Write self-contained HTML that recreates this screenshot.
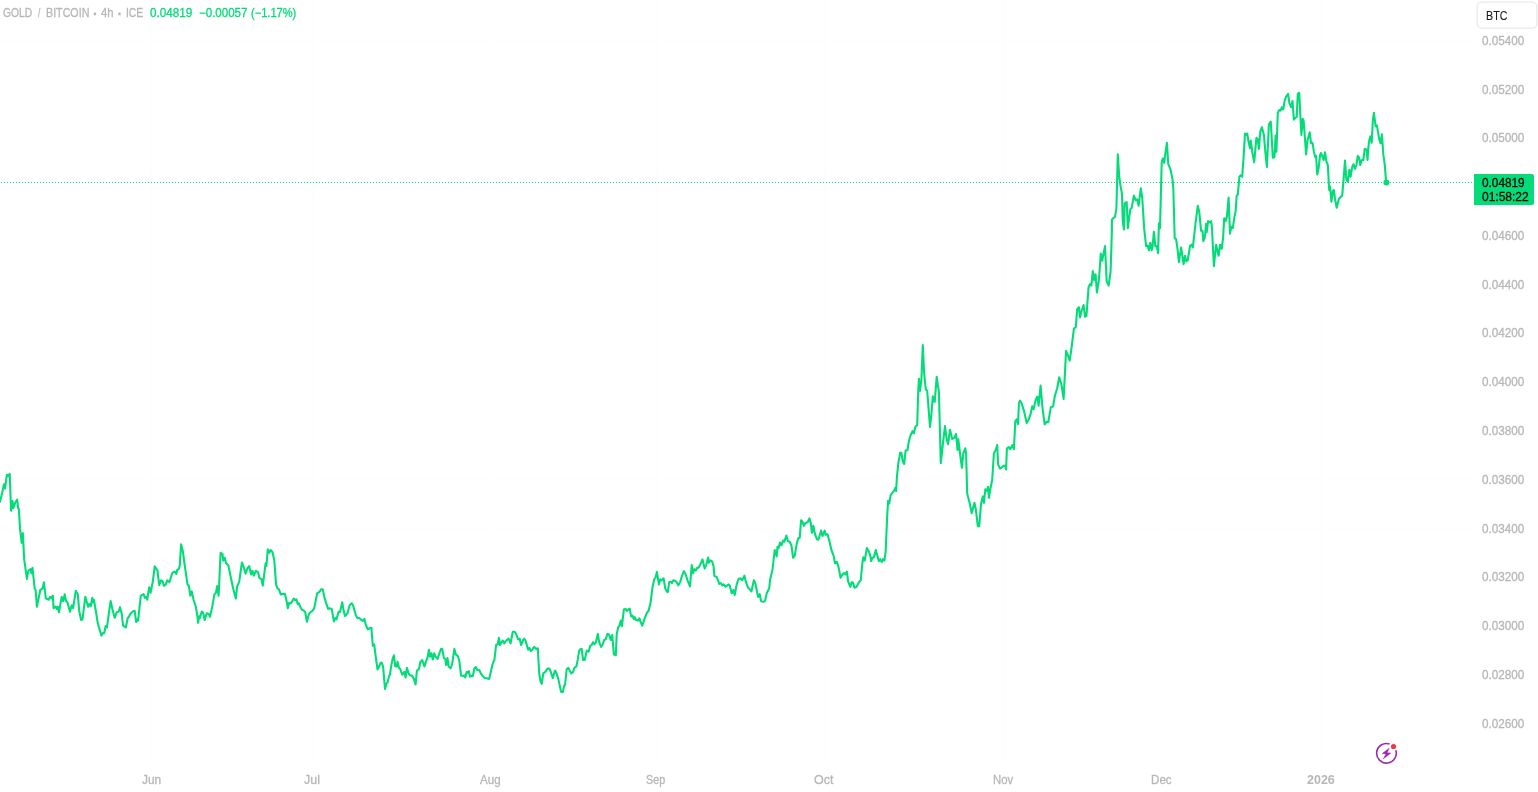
<!DOCTYPE html>
<html><head><meta charset="utf-8"><title>GOLD / BITCOIN</title>
<style>
html,body{margin:0;padding:0;background:#fff;}
body{width:1538px;height:792px;position:relative;overflow:hidden;font-family:"Liberation Sans",sans-serif;font-size:12px;}
#chart{position:absolute;left:0;top:0;}
.t{position:absolute;display:block;line-height:14px;height:14px;white-space:nowrap;transform-origin:0 50%;-webkit-text-stroke:0.3px currentColor;}
#plabel{position:absolute;left:1474px;top:174px;width:60px;height:31px;background:#04DC79;border-radius:0 2px 2px 0;}
</style></head><body>
<svg id="chart" width="1538" height="792" viewBox="0 0 1538 792">
<g stroke="#fdfdfd" stroke-width="1"><line x1="0" y1="40.5" x2="1472" y2="40.5"/><line x1="0" y1="89.5" x2="1472" y2="89.5"/><line x1="0" y1="138.5" x2="1472" y2="138.5"/><line x1="0" y1="187.5" x2="1472" y2="187.5"/><line x1="0" y1="235.5" x2="1472" y2="235.5"/><line x1="0" y1="284.5" x2="1472" y2="284.5"/><line x1="0" y1="333.5" x2="1472" y2="333.5"/><line x1="0" y1="382.5" x2="1472" y2="382.5"/><line x1="0" y1="430.5" x2="1472" y2="430.5"/><line x1="0" y1="479.5" x2="1472" y2="479.5"/><line x1="0" y1="528.5" x2="1472" y2="528.5"/><line x1="0" y1="577.5" x2="1472" y2="577.5"/><line x1="0" y1="626.5" x2="1472" y2="626.5"/><line x1="0" y1="674.5" x2="1472" y2="674.5"/><line x1="0" y1="723.5" x2="1472" y2="723.5"/><line x1="151.5" y1="0" x2="151.5" y2="765"/><line x1="312.5" y1="0" x2="312.5" y2="765"/><line x1="490.5" y1="0" x2="490.5" y2="765"/><line x1="656.5" y1="0" x2="656.5" y2="765"/><line x1="824.5" y1="0" x2="824.5" y2="765"/><line x1="1003.5" y1="0" x2="1003.5" y2="765"/><line x1="1162.5" y1="0" x2="1162.5" y2="765"/><line x1="1321.5" y1="0" x2="1321.5" y2="765"/></g>
<line x1="1" y1="182.5" x2="1474" y2="182.5" stroke="#04DC79" stroke-width="1" stroke-dasharray="1 2"/>
<path d="M0,501.7 L2.2,492.8 L3.9,484.4 L5,488.6 L6.9,474.7 L8.3,476.1 L9.7,473.9 L11.1,510.8 L12.5,501.1 L13.3,508.1 L15.3,502.5 L17.2,499.7 L18.1,508.1 L18.9,509.4 L20,528.9 L21.7,542.8 L22.8,533.1 L24.2,559.4 L26.9,578.9 L28.3,570.6 L30.6,569.2 L31.4,573.3 L32.5,567.8 L34.7,588.6 L35.6,590 L36.9,606.7 L40.3,590 L42.5,588.6 L43.9,582.2 L45.8,598.3 L48.6,599.7 L50,596.9 L51.4,598.3 L52.8,595.6 L53.6,608.1 L55.6,606.7 L56.9,608.9 L57.8,606.7 L58.9,612.2 L61.7,596.9 L63.3,601.1 L64.7,594.2 L66.1,601.1 L67.5,602.5 L70,611.7 L71.7,605.3 L73.1,608.1 L75.8,590.8 L77.8,594.2 L79.2,610.8 L81.1,620 L82.5,619.2 L85.3,596.9 L88.1,606.7 L89.4,603.9 L90.8,606.1 L92.2,597.8 L93.1,602.5 L93.9,599.7 L95.8,610.8 L97.8,623.3 L101.4,635.8 L102.8,633.1 L104.2,633.1 L105.6,626.1 L106.9,627.5 L110.6,601.1 L112.5,609.4 L114.7,617.8 L116.7,612.2 L118.6,611.7 L120,607.2 L121.7,613.6 L123.1,625.6 L125.8,627.5 L127.8,617.8 L128.6,617.2 L130.6,613.6 L132.8,611.4 L134.7,610.8 L136.1,621.9 L137.5,619.2 L138.1,620.6 L140.8,595.6 L143.6,594.2 L145,597.8 L146.4,596.9 L147.2,599.7 L149.2,587.2 L150.6,592.8 L152.8,581.7 L154.7,566.4 L157.5,570.6 L159.2,585 L161.1,580.3 L162.5,581.1 L163.9,585.8 L165.8,584.4 L167.2,580.3 L168.6,581.7 L169.4,582.2 L172.2,573.3 L173.6,571.9 L175,571.9 L176.4,573.9 L177.2,570 L178.6,569.2 L179.7,566.4 L181.1,544.2 L182.8,551.1 L184.7,565 L187.5,584.4 L188.9,585.8 L190.3,595.6 L191.7,591.4 L193.6,599.7 L195.8,606.7 L197.2,615 L198.1,622.8 L199.2,616.4 L199.7,618.1 L201.7,611.7 L203.1,612.5 L204.7,620 L206.7,613.3 L208.6,613.9 L210,616.7 L212.2,606.9 L214.4,594.4 L215.8,593.1 L217.2,586.1 L218.6,595.8 L220.6,552.8 L222.5,554.2 L223.3,560.6 L224.7,557.8 L226.1,563.3 L228.3,565.3 L230.3,575 L233.1,588.3 L235.8,598.6 L237.2,586.1 L239.2,581.9 L241.9,562.5 L243.6,566.7 L245.6,573.6 L247.5,568.1 L249.2,566.1 L251.1,574.4 L252.5,570.8 L253.9,575.6 L255.8,570.8 L258.1,572.2 L259.4,577.8 L261.4,579.2 L262.8,585.6 L265.6,563.3 L266.4,566.1 L267.8,549.4 L269.2,552.8 L270.6,550 L272.5,552.2 L274.2,559.7 L276.1,584.7 L277.5,588.3 L278.9,589.4 L280.8,594.4 L283.1,593.9 L285,593.9 L286.7,601.4 L287.8,608.3 L289.2,602.8 L290.8,603.3 L292.2,601.4 L293.6,598.6 L295,600 L296.4,599.4 L297.8,604.2 L298.9,603.3 L300.3,606.9 L301.9,609.7 L303.9,610.6 L305.3,612.5 L306.9,621.7 L308.9,613.9 L310.8,611.9 L312.2,611.1 L314.2,608.3 L317.2,593.1 L319.2,592.2 L321.1,589.4 L322.8,589.4 L324.7,598.6 L326.1,602.8 L328.1,608.9 L329.7,608.3 L331.7,608.9 L333.9,621.4 L335.3,618.1 L336.4,619.4 L338.6,611.7 L340,611.9 L342.2,602.2 L343.6,610.6 L345,616.1 L347.5,613.3 L349.7,605 L351.7,603.3 L353.3,606.1 L355.8,615.3 L357.5,618.1 L359.4,618.1 L361.4,620 L362.8,620.8 L364.4,618.9 L365.8,625 L367.8,629.2 L369.7,628.3 L371.4,627.8 L372.8,645.8 L374.2,644.4 L375.6,655.6 L377.5,669.4 L378.9,667.2 L380.3,663.3 L381.7,662.5 L383.1,666.7 L385,688.9 L386.4,683.9 L387.8,681.9 L388.9,676.4 L390,674.4 L391.1,666.4 L392.8,658.1 L393.9,655.3 L395.3,666.4 L396.7,666.4 L397.5,661.7 L398.9,667.8 L400.3,669.2 L402.2,674.7 L403.6,672.8 L404.4,671.9 L405.6,677.5 L406.9,667.8 L408.6,673.3 L410,675.3 L411.9,675.6 L413.9,678.9 L415.6,684.4 L416.9,670.6 L418.9,669.2 L420.3,662.2 L422.2,660 L424.4,666.4 L425.8,662.2 L427.8,656.7 L428.9,649.7 L430,656.7 L431.4,653.3 L432.8,659.4 L434.2,653.3 L435.6,656.7 L437.5,658.9 L439.2,653.9 L441.1,648.9 L442.2,648.9 L443.9,658.1 L445.3,658.9 L446.1,665 L447.5,658.1 L448.6,666.4 L450.6,668.3 L452.2,663.6 L454.4,648.9 L455.8,654.4 L457.8,656.1 L459.2,660 L461.1,675.6 L462.8,676.1 L464.2,675.3 L465.3,677.5 L466.7,671.9 L468.1,672.8 L468.9,671.1 L470,676.7 L471.7,675.6 L472.8,676.1 L474.4,668.3 L475.8,667.2 L477.2,670 L479.2,670 L480.8,673.3 L482.8,676.1 L484.7,678.1 L486.9,678.3 L489.2,678.9 L490.6,672.8 L492.5,664.4 L494.4,660 L496.1,645 L497.8,644.2 L498.9,637.8 L500,645 L501.4,642.2 L502.8,640.6 L504.2,643.3 L505.6,641.4 L506.9,640 L508.6,638.6 L510.6,643.3 L512.8,631.7 L514.7,631.7 L516.1,633.9 L518.1,639.4 L519.7,638.6 L521.1,645 L523.1,640 L524.4,638.6 L525.8,641.4 L528.1,649.7 L529.4,647.8 L530.8,651.1 L532.2,649.7 L534.2,646.9 L536.1,648.9 L537.8,648.3 L539.2,673.3 L540.6,681.7 L541.7,683.9 L543.3,673.3 L545.3,671.9 L547.5,668.6 L549.4,668.6 L550.8,671.9 L552.8,678.1 L555,670.6 L556.4,672.8 L558.3,678.9 L561.1,691.9 L562.8,691.9 L564.2,685.8 L565,685 L566.7,669.2 L568.3,667.8 L569.7,670.6 L571.1,673.3 L573.1,671.9 L574.4,667.8 L576.4,666.4 L577.8,659.4 L579.2,650.6 L580,649.7 L580.3,649.2 L581.7,648.9 L583.1,660 L584.7,660 L586.7,650.6 L588.6,651.7 L590.3,645.6 L591.7,645 L593.1,642.2 L594.4,644.2 L595.8,642.8 L597.8,633.9 L599.2,642.2 L601.1,646.9 L602.8,644.2 L604.2,640 L605.6,639.4 L607.5,633.9 L608.9,634.4 L610.8,640 L612.2,635 L613.9,654.4 L615.8,655.3 L616.7,634.4 L618.1,627.5 L619.4,625.6 L620.8,620.6 L621.9,626.1 L623.9,609.4 L625.6,608.9 L626.9,610.8 L628.3,609.4 L629.7,608.6 L631.1,616.4 L632.5,615.6 L633.9,619.2 L634.7,617.2 L636.1,620 L638.1,620.6 L639.4,618.3 L640.3,621.1 L642.2,625.6 L644.4,619.2 L646.9,612.8 L648.6,610.8 L650.6,602.5 L652.5,587.2 L654.2,579.4 L655.6,577.5 L656.9,571.9 L658.9,584.4 L660.3,579.4 L661.7,580.3 L663.6,578.3 L665.3,588.6 L666.7,591.4 L667.8,592.2 L669.2,582.2 L670.8,581.7 L671.9,583.1 L673.3,580.3 L675,580.8 L676.4,581.7 L678.3,585.3 L680.3,581.7 L681.9,576.1 L683.9,571.1 L685.8,574.7 L687.5,580.3 L690,586.4 L691.7,565 L693.1,573.3 L694.4,569.2 L695.8,570.6 L697.2,567.8 L698.6,567.8 L700,565 L702.5,559.4 L704.7,568.6 L706.1,565.6 L708.1,557.5 L708.9,562.8 L710.3,560.3 L712.2,561.7 L713.6,566.4 L714.4,576.1 L716.4,576.7 L718.1,580.3 L719.2,583.9 L720.8,583.1 L722.2,585.3 L723.6,584.4 L725.6,586.7 L726.9,585.8 L728.3,584.4 L729.7,585.3 L731.7,593.3 L733.3,590 L734.7,595 L736.7,584.4 L738.6,578.9 L740.3,578.3 L742.2,580.3 L744.4,575.6 L745.8,581.7 L747.8,587.2 L749.7,589.4 L751.4,591.4 L753.9,580.3 L755.3,583.1 L756.7,590 L758.1,596.9 L759.7,594.2 L761.1,601.1 L763.1,601.9 L765,601.1 L766.7,593.3 L768.1,590.6 L769.2,588.6 L770,580.3 L772.5,569.4 L774.7,550 L776.7,556.4 L777.5,546.7 L778.6,548.1 L780,542.5 L781.4,545.3 L783.1,540.6 L784.4,541.7 L786.4,535.6 L787.8,541.1 L789.7,541.7 L791.4,545.3 L793.1,557.8 L794.7,555.6 L796.7,543.9 L798.3,538.3 L799.7,537.8 L801.1,520.3 L802.5,521.7 L803.9,525.8 L805.3,523.1 L807.8,522.2 L809.4,518.3 L810.8,523.1 L811.9,532.8 L813.3,525.8 L815,534.2 L816.9,539.2 L818.3,539.7 L819.7,535.6 L821.1,530.6 L822.5,536.1 L824.7,530.6 L825.8,534.7 L827.5,534.2 L829.4,541.1 L831.4,550 L833.6,555.6 L835,563.3 L836.9,561.9 L838.6,567.5 L840.6,577.8 L842.5,574.4 L844.2,573.1 L845.6,574.4 L846.9,571.7 L848.1,581.4 L850.3,586.9 L851.7,582.2 L853.1,582.8 L854.4,587.8 L856.4,586.9 L858.6,582.8 L860.8,580 L862.2,564.7 L863.3,557.2 L864.7,560.6 L866.9,548.1 L868.9,551.7 L870.3,555.6 L871.1,561.1 L872.5,557.8 L873.9,557.2 L875.8,550 L877.5,556.4 L878.9,561.1 L880.3,559.2 L881.7,561.9 L883.1,559.2 L884.4,560.6 L885.6,552.2 L887.2,516.1 L888.1,500.8 L889.2,503.6 L890.6,495.3 L892.5,492.5 L894.2,490.6 L895.3,487.8 L896.1,491.1 L896.9,477.2 L898.3,463.3 L899.7,455.6 L900,452.8 L901.4,452.8 L902.8,461.7 L904.2,463.9 L905.6,450.6 L907.5,450 L908.9,440.8 L910.6,435.3 L912.5,431.1 L913.9,433.3 L915.3,426.9 L917.2,425 L918.1,395 L918.9,378.9 L920,390.8 L921.4,379.7 L922.8,345 L924.2,374.2 L925.8,389.4 L927.2,390.8 L930,426.9 L931.4,414.4 L932.8,396.4 L934.7,401.9 L936.7,376.9 L938.9,392.2 L940.8,463.1 L943.1,442.2 L945,426.1 L946.7,439.4 L948.1,444.2 L950,429.7 L952.2,438.9 L954.2,438.1 L956.1,433.9 L957.5,450 L958.3,439.4 L960.3,455.6 L961.9,467.8 L963.3,453.3 L965.3,448.3 L966.1,453.3 L967.2,493.6 L969.4,501.9 L971.7,513.1 L974.4,502.8 L975.8,508.9 L977.8,526.1 L979.2,526.1 L981.1,503.3 L982.8,496.4 L983.9,502.8 L985.3,489.4 L986.9,490.8 L988.1,486.7 L988.9,497.8 L990.3,489.4 L992.2,479.7 L993.9,453.3 L995.8,450 L997.2,445 L998.1,464.4 L1000,468.6 L1002.2,467.2 L1003.6,465.8 L1005,465.8 L1006.1,469.4 L1006.9,448.3 L1008.9,447.2 L1010.3,449.2 L1012.5,445 L1013.9,449.2 L1015.3,421.4 L1016.7,419.4 L1018.1,424.2 L1018.9,403.3 L1020,400.6 L1021.7,403.6 L1023.9,410.6 L1026.7,423.1 L1028.9,418.9 L1030.8,413.3 L1032.2,406.4 L1033.6,409.2 L1035.6,400 L1037.2,396.7 L1038.6,405.6 L1040.6,385.6 L1042.5,407.8 L1044.7,424.4 L1046.7,421.7 L1048.3,422.2 L1050.8,407.2 L1053.1,406.4 L1055,395.3 L1057.2,388.3 L1059.2,377.2 L1061.4,384.2 L1063.6,398.9 L1066.1,350.8 L1067.8,355 L1069.7,360.6 L1071.7,346.7 L1073.9,328.6 L1075.8,327.2 L1077.2,309.2 L1078.9,307.2 L1080,317.5 L1081.7,310.6 L1083.6,305 L1085,316.7 L1086.4,316.1 L1088.6,286.9 L1090,284.2 L1091.4,285.6 L1092.8,271.1 L1094.2,280 L1095.6,274.4 L1096.9,292.5 L1098.9,280 L1100.8,253.6 L1102.2,260.6 L1105,246.1 L1106.7,281.4 L1108.6,285.6 L1110.6,271.7 L1111.9,230 L1111.9,219.7 L1113.6,217.8 L1115,216.9 L1116.4,208.6 L1117.8,154.4 L1119.2,176.7 L1120.6,186.4 L1121.9,193.3 L1122.8,221.1 L1123.9,229.4 L1124.7,203.1 L1126.7,202.2 L1127.8,228.1 L1130.3,209.4 L1131.7,207.8 L1133.9,195.6 L1135.8,200.3 L1137.2,199.4 L1138.6,205.8 L1140.8,188.3 L1142.2,197.5 L1144.2,228.9 L1146.1,246.1 L1147.5,245.6 L1148.9,250.3 L1150.3,242.8 L1151.7,250.3 L1152.5,247.5 L1153.9,231.7 L1155.3,246.1 L1156.7,246.1 L1158.1,253.1 L1158.9,223.3 L1160,228.1 L1161.7,162.2 L1162.8,158.6 L1164.2,162.8 L1165.6,151.7 L1166.9,142.8 L1168.3,164.2 L1170.6,169.7 L1172.5,179.4 L1173.3,187.8 L1174.7,238.3 L1176.1,239.2 L1177.5,248.9 L1178.9,262.2 L1181.1,247.5 L1183.6,264.2 L1185,255.8 L1186.4,261.4 L1187.8,260 L1190,246.1 L1191.4,244.7 L1192.8,247.5 L1193.6,240.6 L1195.6,222.5 L1197.8,205.8 L1199.2,211.4 L1201.1,230.8 L1202.5,230.8 L1203.3,241.1 L1204.7,237.8 L1206.1,223.9 L1206.7,232.2 L1208.1,221.1 L1210,222.5 L1211.1,221.1 L1211.9,226.7 L1213.9,266.1 L1216.1,244.7 L1218.6,255.8 L1220,244.7 L1221.7,248.9 L1223.1,237.8 L1224.2,218.3 L1225.6,221.1 L1226.9,216.9 L1228.6,197.5 L1230,233.6 L1231.4,226.7 L1232.8,228.1 L1234.2,218.3 L1235.6,211.4 L1236.7,195.6 L1237.8,194.7 L1239.4,176.7 L1240.8,175.3 L1242.2,176.7 L1243.6,157.2 L1245,133.6 L1245.8,135 L1247.2,133.6 L1248.6,141.9 L1250,148.3 L1250.8,140.6 L1252.2,151.7 L1254.2,162.2 L1256.4,137.8 L1257.8,139.2 L1258.9,148.9 L1260.3,131.7 L1261.9,127.2 L1263.9,135 L1265.3,151.7 L1266.9,166.9 L1268.9,124.4 L1270.8,121.7 L1271.7,137.8 L1272.8,157.8 L1274.4,157.2 L1275.6,135.6 L1276.4,151.7 L1277.8,112.8 L1279.2,110 L1280.6,110.6 L1281.9,107.2 L1283.3,109.4 L1284.7,100.3 L1286.1,96.7 L1288.1,93.9 L1289.4,103.1 L1291.1,107.2 L1292.5,101.1 L1293.9,119.7 L1295.3,117.8 L1296.7,116.9 L1297.8,93.9 L1299.2,92.8 L1300.6,119.7 L1301.4,135 L1302.8,118.9 L1303.6,120.6 L1304.7,135 L1306.1,154.4 L1307.5,140.6 L1309.7,132.2 L1311.1,143.3 L1312.5,142.8 L1313.9,151.7 L1315.3,157.2 L1316.1,155.8 L1317.2,174.4 L1318.6,168.3 L1320,155.8 L1320.8,153.1 L1322.2,155.8 L1323.6,160 L1325,152.2 L1326.4,161.4 L1327.8,165 L1329.2,190 L1330,186.4 L1331.4,201.7 L1332.8,191.1 L1333.9,190 L1335,198.9 L1336.7,207.8 L1338.9,198.9 L1340.8,196.7 L1342.2,195.6 L1343.6,179.4 L1345,160.6 L1346.4,179.4 L1347.8,181.7 L1349.4,169.7 L1350.6,176.7 L1352.2,166.9 L1353.6,164.2 L1355,168.9 L1356.4,165 L1357.8,155.8 L1359.2,157.8 L1360.3,165 L1361.7,160 L1363.3,160 L1364.7,148.9 L1366.7,149.4 L1367.5,160 L1368.9,141.9 L1370.3,136.4 L1371.7,142.8 L1372.8,121.1 L1373.9,112.8 L1375.6,126.1 L1376.9,125.3 L1379.2,139.2 L1380.6,143.3 L1381.9,134.4 L1383.3,154.4 L1384.7,164.2 L1386.1,181.7" fill="none" stroke="#04DC79" stroke-width="2.1" stroke-linejoin="round" stroke-linecap="round"/>
<circle cx="1386.4" cy="182.4" r="3" fill="#04DC79"/>
<rect x="1477.1" y="2.2" width="59.7" height="26" rx="4.5" fill="#fff" stroke="#e9e9e9" stroke-width="1.3"/>
<g>
<path d="M1389.58,744.01 A9.8,9.8 0 1 0 1395.77,750.27" fill="none" stroke="#9C27B0" stroke-width="1.6"/>
<path d="M1389.23,748.14 L1382.06,753.6 L1385.95,753.95 L1383.17,759 L1390.85,753.09 L1387.21,752.69 Z" fill="#9C27B0" stroke="#9C27B0" stroke-width="0.4" stroke-linejoin="round"/>
<circle cx="1393.5" cy="746.5" r="2.6" fill="#F23645"/>
</g>
</svg>
<div id="plabel"></div>
<span class="t" style="left:2.75px;top:6px;color:#b7b7b7;transform:scaleX(0.8602)">GOLD</span>
<span class="t" style="left:37.67px;top:6px;color:#b7b7b7;transform:scaleX(0.6933)">/</span>
<span class="t" style="left:46.13px;top:6px;color:#b7b7b7;transform:scaleX(0.8910)">BITCOIN</span>
<span class="t" style="left:93.03px;top:6.6px;color:#b7b7b7;font-size:14px;font-weight:bold;transform:scaleX(1.0000)">·</span>
<span class="t" style="left:101.4px;top:6px;color:#b7b7b7;transform:scaleX(0.9412)">4h</span>
<span class="t" style="left:117.53px;top:6.6px;color:#b7b7b7;font-size:14px;font-weight:bold;transform:scaleX(1.0000)">·</span>
<span class="t" style="left:125.76px;top:6px;color:#b7b7b7;transform:scaleX(0.8587)">ICE</span>
<span class="t" style="left:149.66px;top:6px;color:#04DC79;transform:scaleX(0.9754)">0.04819</span>
<span class="t" style="left:199.02px;top:6px;color:#04DC79;transform:scaleX(0.9616)">−0.00057</span>
<span class="t" style="left:251.41px;top:6px;color:#04DC79;transform:scaleX(0.9236)">(−1.17%)</span>
<span class="t" style="left:1481.96px;top:33.8px;color:#b7b7b7;transform:scaleX(0.9754)">0.05400</span>
<span class="t" style="left:1481.96px;top:82.6px;color:#b7b7b7;transform:scaleX(0.9754)">0.05200</span>
<span class="t" style="left:1481.96px;top:131.3px;color:#b7b7b7;transform:scaleX(0.9754)">0.05000</span>
<span class="t" style="left:1481.96px;top:228.9px;color:#b7b7b7;transform:scaleX(0.9754)">0.04600</span>
<span class="t" style="left:1481.96px;top:277.7px;color:#b7b7b7;transform:scaleX(0.9754)">0.04400</span>
<span class="t" style="left:1481.96px;top:326.4px;color:#b7b7b7;transform:scaleX(0.9754)">0.04200</span>
<span class="t" style="left:1481.96px;top:375.2px;color:#b7b7b7;transform:scaleX(0.9754)">0.04000</span>
<span class="t" style="left:1481.96px;top:424.0px;color:#b7b7b7;transform:scaleX(0.9754)">0.03800</span>
<span class="t" style="left:1481.96px;top:472.7px;color:#b7b7b7;transform:scaleX(0.9754)">0.03600</span>
<span class="t" style="left:1481.96px;top:521.5px;color:#b7b7b7;transform:scaleX(0.9754)">0.03400</span>
<span class="t" style="left:1481.96px;top:570.3px;color:#b7b7b7;transform:scaleX(0.9754)">0.03200</span>
<span class="t" style="left:1481.96px;top:619.0px;color:#b7b7b7;transform:scaleX(0.9754)">0.03000</span>
<span class="t" style="left:1481.96px;top:667.8px;color:#b7b7b7;transform:scaleX(0.9754)">0.02800</span>
<span class="t" style="left:1481.96px;top:716.6px;color:#b7b7b7;transform:scaleX(0.9754)">0.02600</span>
<span class="t" style="left:142.2px;top:772.5px;color:#b7b7b7;transform:scaleX(0.9920)">Jun</span>
<span class="t" style="left:304.2px;top:772.5px;color:#b7b7b7;transform:scaleX(1.0373)">Jul</span>
<span class="t" style="left:480.0px;top:772.5px;color:#b7b7b7;transform:scaleX(0.9639)">Aug</span>
<span class="t" style="left:646.48px;top:772.5px;color:#b7b7b7;transform:scaleX(0.8964)">Sep</span>
<span class="t" style="left:814.48px;top:772.5px;color:#b7b7b7;transform:scaleX(1.0411)">Oct</span>
<span class="t" style="left:993.09px;top:772.5px;color:#b7b7b7;transform:scaleX(0.9446)">Nov</span>
<span class="t" style="left:1151.47px;top:772.5px;color:#b7b7b7;transform:scaleX(0.9679)">Dec</span>
<span class="t" style="left:1307.44px;top:772.5px;color:#b7b7b7;font-weight:bold;-webkit-text-stroke-width:0;transform:scaleX(1.0423)">2026</span>
<span class="t" style="left:1485.73px;top:8.5px;color:#1c1c1c;-webkit-text-stroke-width:0.1px;transform:scaleX(0.8923)">BTC</span>
<span class="t" style="left:1481.65px;top:175.5px;color:#0a0a0a;transform:scaleX(0.9825)">0.04819</span>
<span class="t" style="left:1481.65px;top:190px;color:#0a0a0a;transform:scaleX(0.9978)">01:58:22</span>

</body></html>
